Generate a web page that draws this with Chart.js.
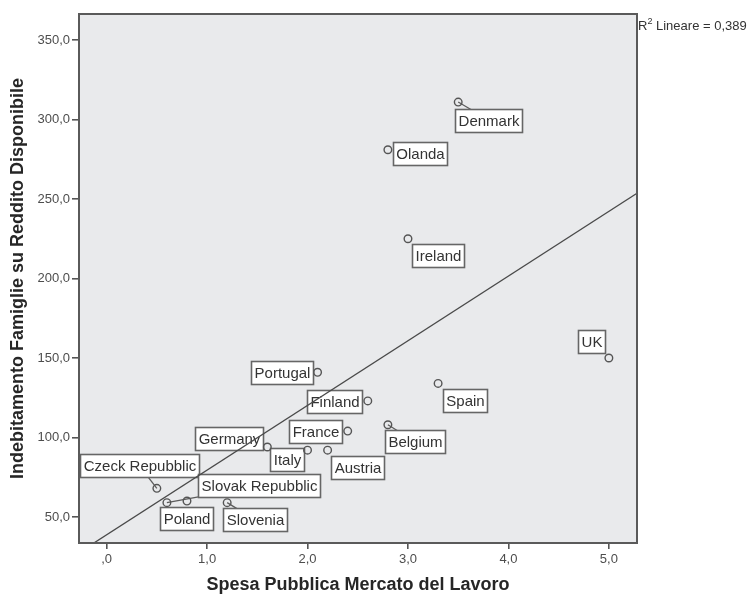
<!DOCTYPE html>
<html>
<head>
<meta charset="utf-8">
<script src="https://cdn.jsdelivr.net/npm/chart.js@4/dist/chart.umd.min.js"></script>
<style>
  html, body { margin: 0; padding: 0; background: #ffffff; }
  #wrap { width: 749px; height: 596px; }
</style>
</head>
<body>
<div id="wrap"><canvas id="chart" width="749" height="596"></canvas></div>
<script>
// Countries and their values
const countries = ["Denmark", "Olanda", "Ireland", "UK", "Portugal", "Spain", "Finland", "France",
  "Belgium", "Germany", "Italy", "Austria", "Czeck Repubblic", "Slovak Repubblic", "Poland", "Slovenia"];
const spesaLavoro = [3.5, 2.8, 3.0, 5.0, 2.1, 3.3, 2.6, 2.4, 2.8, 1.6, 2.0, 2.2, 0.5, 0.6, 0.8, 1.2];
const indebitamento = [311, 281, 225, 150, 141, 134, 123, 104, 108, 94, 92, 92, 68, 59, 60, 59];

// Axis ticks
const xTickValues = [0, 1, 2, 3, 4, 5];
const xTickLabels = [",0", "1,0", "2,0", "3,0", "4,0", "5,0"];
const yTickValues = [50, 100, 150, 200, 250, 300, 350];
const yTickLabels = ["50,0", "100,0", "150,0", "200,0", "250,0", "300,0", "350,0"];

// Axis ranges
const xRange = [-0.275, 5.28];
const yRange = [33.6, 366.4];

const fitText = " Lineare = 0,389";

// Least-squares line through the points
const n = spesaLavoro.length;
const mx = spesaLavoro.reduce((a, b) => a + b, 0) / n;
const my = indebitamento.reduce((a, b) => a + b, 0) / n;
let sxy = 0, sxx = 0;
for (let i = 0; i < n; i++) {
  sxy += (spesaLavoro[i] - mx) * (indebitamento[i] - my);
  sxx += (spesaLavoro[i] - mx) ** 2;
}
const slope = sxy / sxx;
const intercept = my - slope * mx;
const fitPoints = xRange.map(x => ({ x: x, y: intercept + slope * x }));

// Point label placement: box centre offset from the point (px), optional leader line
const labelPlacement = {
  "Denmark":          { dx: 30.5,  dy: 18,    leader: true },
  "Olanda":           { dx: 32.5,  dy: 3.8 },
  "Ireland":          { dx: 29.9,  dy: 16.8 },
  "UK":               { dx: -17.5, dy: -16.2 },
  "Portugal":         { dx: -35.8, dy: 0.3 },
  "Spain":            { dx: 27.2,  dy: 17.3 },
  "Finland":          { dx: -33.5, dy: 0.3 },
  "France":           { dx: -32,   dy: 0.5 },
  "Belgium":          { dx: 27.4,  dy: 17,    leader: true },
  "Germany":          { dx: -38.5, dy: -8.7 },
  "Italy":            { dx: -21.1, dy: 9.8 },
  "Austria":          { dx: 30,    dy: 17 },
  "Czeck Repubblic":  { dx: -17.9, dy: -23.1, leader: true },
  "Slovak Repubblic": { dx: 92,    dy: -16.7, leader: true },
  "Poland":           { dx: -0.2,  dy: 17.6 },
  "Slovenia":         { dx: 28.1,  dy: 17.3,  leader: true }
};

const FONT = "'Liberation Sans', Arial, Helvetica, sans-serif";
const PLOT_BG = "#e9eaec";

const points = countries.map((c, i) => ({ x: spesaLavoro[i], y: indebitamento[i], label: c }));

// Grey plotting area
const plotBackground = {
  id: "plotBackground",
  beforeDraw(chart) {
    const { ctx, chartArea: a } = chart;
    ctx.save();
    ctx.fillStyle = PLOT_BG;
    ctx.fillRect(a.left, a.top, a.right - a.left, a.bottom - a.top);
    ctx.restore();
  }
};

// Boxed country labels with leader lines, under the marks
const pointLabels = {
  id: "pointLabels",
  beforeDatasetsDraw(chart) {
    const { ctx } = chart;
    const meta = chart.getDatasetMeta(0);
    ctx.save();
    ctx.font = "15px " + FONT;
    const boxes = meta.data.map((el, i) => {
      const name = countries[i];
      const p = labelPlacement[name] || { dx: 25, dy: 15 };
      const w = ctx.measureText(name).width + 6;
      const h = 23;
      const cx = el.x + p.dx, cy = el.y + p.dy;
      return { name, el, p, cx, cy, w, h };
    });
    ctx.strokeStyle = "#5c5c5c";
    ctx.lineWidth = 1.3;
    boxes.forEach(b => {
      if (!b.p.leader) return;
      ctx.beginPath();
      ctx.moveTo(b.el.x, b.el.y);
      ctx.lineTo(b.cx, b.cy);
      ctx.stroke();
    });
    boxes.forEach(b => {
      const x = Math.round(b.cx - b.w / 2) + 0.5;
      const y = Math.round(b.cy - b.h / 2) + 0.5;
      ctx.fillStyle = "#ffffff";
      ctx.fillRect(x, y, Math.round(b.w), b.h);
      ctx.strokeStyle = "#666666";
      ctx.lineWidth = 1.6;
      ctx.strokeRect(x, y, Math.round(b.w), b.h);
      ctx.fillStyle = "#333333";
      ctx.textAlign = "center";
      ctx.textBaseline = "middle";
      ctx.fillText(b.name, x + Math.round(b.w) / 2, y + b.h / 2 + 1);
    });
    ctx.restore();
  }
};

// Frame around the plot and the fit note
const plotFrame = {
  id: "plotFrame",
  afterDatasetsDraw(chart) {
    const { ctx, chartArea: a } = chart;
    ctx.save();
    ctx.strokeStyle = "#5a5a5a";
    ctx.lineWidth = 2;
    ctx.strokeRect(a.left, a.top, a.right - a.left, a.bottom - a.top);
    ctx.restore();
  },
  afterDraw(chart) {
    const { ctx, chartArea: a } = chart;
    ctx.save();
    ctx.fillStyle = "#333333";
    ctx.textBaseline = "alphabetic";
    ctx.textAlign = "left";
    let x = a.right + 1;
    const base = a.top + 15.5;
    ctx.font = "13px " + FONT;
    ctx.fillText("R", x, base);
    x += ctx.measureText("R").width;
    ctx.font = "9px " + FONT;
    ctx.fillText("2", x, base - 5.5);
    x += ctx.measureText("2").width;
    ctx.font = "13px " + FONT;
    ctx.fillText(fitText, x, base);
    ctx.restore();
  }
};

new Chart(document.getElementById("chart"), {
  type: "scatter",
  data: {
    datasets: [
      {
        data: points,
        pointStyle: "circle",
        pointRadius: 3.8,
        pointHoverRadius: 3.8,
        pointBorderWidth: 1.4,
        borderColor: "#555555",
        backgroundColor: "rgba(0,0,0,0)",
        order: 1
      },
      {
        type: "line",
        data: fitPoints,
        showLine: true,
        pointRadius: 0,
        borderColor: "#4a4a4a",
        borderWidth: 1.3,
        fill: false,
        order: 0
      }
    ]
  },
  options: {
    responsive: false,
    animation: false,
    devicePixelRatio: 1,
    layout: { autoPadding: false, padding: { left: 0, top: 14, right: 112, bottom: 0 } },
    plugins: { legend: { display: false }, tooltip: { enabled: false } },
    events: [],
    scales: {
      x: {
        type: "linear",
        position: "bottom",
        min: xRange[0],
        max: xRange[1],
        bounds: "data",
        afterBuildTicks: s => { s.ticks = xTickValues.map(v => ({ value: v })); },
        afterFit: s => { s.height = 53; },
        ticks: {
          callback: (v, i) => xTickLabels[i],
          font: { family: FONT, size: 13 },
          color: "#4d4d4d",
          padding: 3,
          maxRotation: 0,
          autoSkip: false
        },
        grid: { drawOnChartArea: false, drawTicks: true, tickLength: 6, color: "#555555", lineWidth: 1.6 },
        border: { display: false },
        title: {
          display: true,
          text: "Spesa Pubblica Mercato del Lavoro",
          font: { family: FONT, size: 18, weight: "bold" },
          color: "#262626",
          padding: { top: 0, bottom: 0 }
        }
      },
      y: {
        type: "linear",
        position: "left",
        min: yRange[0],
        max: yRange[1],
        bounds: "data",
        afterBuildTicks: s => { s.ticks = yTickValues.map(v => ({ value: v })); },
        afterFit: s => { s.width = 79; },
        ticks: {
          callback: (v, i) => yTickLabels[i],
          font: { family: FONT, size: 13 },
          color: "#4d4d4d",
          padding: 2,
          autoSkip: false
        },
        grid: { drawOnChartArea: false, drawTicks: true, tickLength: 7, color: "#555555", lineWidth: 1.6 },
        border: { display: false },
        title: {
          display: true,
          text: "Indebitamento Famiglie su Reddito Disponibile",
          font: { family: FONT, size: 18, weight: "bold" },
          color: "#262626",
          padding: { top: 7, bottom: 0 }
        }
      }
    }
  },
  plugins: [plotBackground, pointLabels, plotFrame]
});
</script>
</body>
</html>
